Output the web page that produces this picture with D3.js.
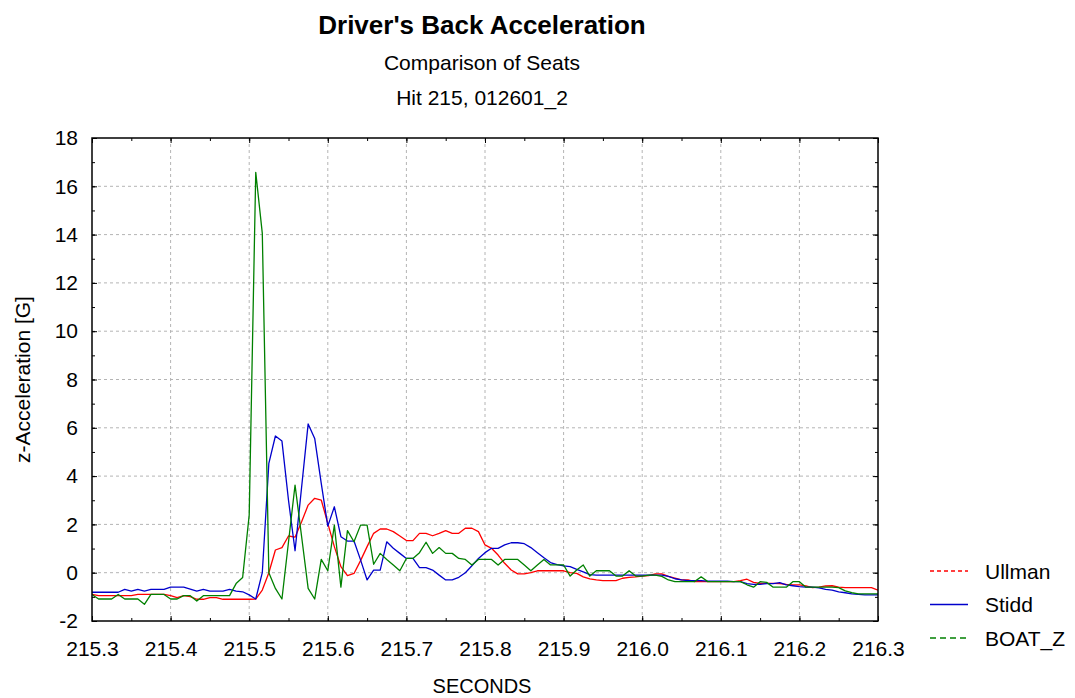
<!DOCTYPE html>
<html>
<head>
<meta charset="utf-8">
<script src="https://cdn.jsdelivr.net/npm/d3@7"></script>
<style>
  body { margin: 0; background: #fff; }
  text { font-family: "Liberation Sans", Arial, sans-serif; fill: #000; }
  .grid line { stroke: #b4b4b4; stroke-dasharray: 3,3; stroke-width: 1; }
</style>
</head>
<body>
<svg width="1075" height="698"></svg>
<script>
// sample times: 120 Hz starting at 215.3 s
var startTime = 215.3, sampleRate = 120;

var ullman = [
  -0.9, -0.95, -0.95, -0.95, -0.95, -0.95, -0.95, -0.9, -0.9, -0.9,
  -0.9, -0.9, -0.95, -1.03, -0.95, -0.99, -1.1, -1.1, -1.03, -1.03,
  -1.1, -1.1, -1.1, -1.1, -1.1, -1.09, -0.72, 0, 0.94, 1.04,
  1.52, 1.47, 2.11, 2.8, 3.08, 3.01, 2.04, 1.08, 0.25, -0.12,
  -0.03, 0.5, 1.08, 1.63, 1.81, 1.81, 1.7, 1.52, 1.33, 1.33,
  1.63, 1.63, 1.53, 1.63, 1.74, 1.63, 1.63, 1.84, 1.84, 1.7,
  1.15, 1.01, 0.73, 0.39, 0.11, -0.05, -0.05, 0, 0.08, 0.08,
  0.08, 0.08, 0.08, 0, -0.03, -0.17, -0.26, -0.3, -0.33, -0.33,
  -0.33, -0.23, -0.19, -0.17, -0.14, -0.12, -0.05, -0.05, -0.15, -0.22,
  -0.3, -0.3, -0.37, -0.37, -0.37, -0.37, -0.37, -0.37, -0.37, -0.33,
  -0.27, -0.4, -0.44, -0.44, -0.44, -0.45, -0.48, -0.5, -0.5, -0.55,
  -0.62, -0.6, -0.55, -0.54, -0.6, -0.62, -0.62, -0.62, -0.62, -0.62,
  -0.72
];

var stidd = [
  -0.81, -0.81, -0.81, -0.81, -0.81, -0.69, -0.76, -0.69, -0.76, -0.69,
  -0.69, -0.69, -0.6, -0.6, -0.6, -0.68, -0.76, -0.69, -0.76, -0.76,
  -0.76, -0.69, -0.76, -0.79, -0.92, -1.09, 0, 4.53, 5.66, 5.45,
  3.0, 0.91, 3.54, 6.16, 5.56, 3.7, 1.93, 2.73, 1.49, 1.31,
  1.31, 0.53, -0.3, 0.11, 0.11, 1.28, 1.01, 0.8, 0.59, 0.59,
  0.21, 0.21, 0.11, -0.1, -0.3, -0.3, -0.19, 0, 0.29, 0.59,
  0.83, 1.01, 1.01, 1.15, 1.24, 1.24, 1.2, 1.04, 0.83, 0.62,
  0.42, 0.33, 0.28, 0.25, 0.14, 0.03, -0.08, -0.1, -0.1, -0.1,
  -0.1, -0.1, -0.1, -0.1, -0.1, -0.1, -0.1, -0.1, -0.15, -0.25,
  -0.3, -0.33, -0.33, -0.33, -0.35, -0.35, -0.35, -0.35, -0.37, -0.37,
  -0.45, -0.48, -0.48, -0.45, -0.45, -0.41, -0.5, -0.54, -0.58, -0.6,
  -0.6, -0.63, -0.69, -0.72, -0.79, -0.83, -0.88, -0.9, -0.92, -0.92,
  -0.92
];

var boatZ = [
  -0.9, -1.09, -1.09, -1.09, -0.9, -1.09, -1.09, -1.09, -1.31, -0.9,
  -0.9, -0.9, -1.09, -1.09, -0.95, -0.95, -1.17, -0.95, -0.95, -0.95,
  -0.95, -0.95, -0.45, -0.2, 2.39, 16.58, 14.05, 0, -0.65, -1.09,
  1.27, 3.63, 1.5, -0.65, -1.09, 0.55, 0.08, 1.97, -0.6, 1.74,
  1.28, 1.97, 1.97, 0.35, 0.8, 0.55, 0.32, 0.08, 0.59, 0.59,
  0.83, 1.26, 0.8, 1.04, 0.8, 0.8, 0.59, 0.55, 0.32, 0.55,
  0.55, 0.55, 0.32, 0.55, 0.55, 0.55, 0.32, 0.08, 0.32, 0.55,
  0.32, 0.32, 0.32, -0.14, 0.11, 0.32, -0.14, 0.08, 0.08, 0.08,
  -0.14, -0.14, 0.08, -0.14, -0.14, -0.1, -0.1, -0.15, -0.3, -0.37,
  -0.37, -0.37, -0.37, -0.17, -0.37, -0.37, -0.37, -0.37, -0.37, -0.37,
  -0.5, -0.6, -0.37, -0.4, -0.6, -0.6, -0.6, -0.37, -0.37, -0.6,
  -0.6, -0.6, -0.6, -0.6, -0.62, -0.75, -0.83, -0.88, -0.88, -0.88,
  -0.88
];

var seriesNames = ["Ullman", "Stidd", "BOAT_Z"];
var seriesColors = ["#ff0000", "#0000cc", "#008000"];
var legendDash = ["4,3", null, "6,4"];

var xTicks = [215.3, 215.4, 215.5, 215.6, 215.7, 215.8, 215.9, 216.0, 216.1, 216.2, 216.3];
var yTicks = [-2, 0, 2, 4, 6, 8, 10, 12, 14, 16, 18];

var svg = d3.select("svg"),
    margin = {top: 138, right: 197, bottom: 77, left: 92},
    width = +svg.attr("width") - margin.left - margin.right,
    height = +svg.attr("height") - margin.top - margin.bottom;

svg.append("rect").attr("width", 1075).attr("height", 698).attr("fill", "#fff");

var g = svg.append("g").attr("transform", "translate(" + margin.left + "," + margin.top + ")");

var x = d3.scaleLinear().domain([215.3, 216.3]).range([0, width]);
var y = d3.scaleLinear().domain([-2, 18]).range([height, 0]);

// grid
g.append("g").attr("class", "grid")
  .selectAll("line").data(xTicks.slice(1, -1)).enter().append("line")
  .attr("x1", function(d) { return x(d); }).attr("x2", function(d) { return x(d); })
  .attr("y1", 0).attr("y2", height);
g.append("g").attr("class", "grid")
  .selectAll("line").data(yTicks.slice(1, -1)).enter().append("line")
  .attr("y1", function(d) { return y(d); }).attr("y2", function(d) { return y(d); })
  .attr("x1", 0).attr("x2", width);

// series
var allSeries = [ullman, stidd, boatZ];
var line = d3.line()
  .x(function(d, i) { return x(startTime + i / sampleRate); })
  .y(function(d) { return y(d); });

g.append("defs").append("clipPath").attr("id", "clip")
  .append("rect").attr("width", width).attr("height", height);

allSeries.forEach(function(s, k) {
  g.append("path")
    .datum(s)
    .attr("clip-path", "url(#clip)")
    .attr("fill", "none")
    .attr("stroke", seriesColors[k])
    .attr("stroke-width", 1.3)
    .attr("stroke-linejoin", "round")
    .attr("d", line);
});

// axes: ticks pointing inward, on all four sides
function styleAxis(sel) {
  sel.select(".domain").remove();
  sel.selectAll(".tick line").attr("stroke", "#000");
  sel.selectAll(".tick text").style("font-size", "21px").style("font-family", "Liberation Sans, Arial, sans-serif");
}

var minorX = d3.range(0, 21).map(function(i) { return 215.3 + i * 0.05; });
var minorY = d3.range(-2, 19, 1);

g.append("g").attr("transform", "translate(0," + height + ")")
  .call(d3.axisBottom(x).tickValues(xTicks).tickFormat(function(d) { return d.toFixed(1); }).tickSize(-5).tickPadding(20))
  .call(styleAxis);
g.append("g").attr("transform", "translate(0," + height + ")")
  .call(d3.axisBottom(x).tickValues(minorX).tickFormat("").tickSize(-3))
  .call(styleAxis);
g.append("g")
  .call(d3.axisTop(x).tickValues(minorX).tickFormat("").tickSize(-3))
  .call(styleAxis);
g.append("g")
  .call(d3.axisTop(x).tickValues(xTicks).tickFormat("").tickSize(-5))
  .call(styleAxis);

g.append("g")
  .call(d3.axisLeft(y).tickValues(yTicks).tickFormat(function(d) { return String(d); }).tickSize(-5).tickPadding(14))
  .call(styleAxis);
g.append("g")
  .call(d3.axisLeft(y).tickValues(minorY).tickFormat("").tickSize(-3))
  .call(styleAxis);
g.append("g").attr("transform", "translate(" + width + ",0)")
  .call(d3.axisRight(y).tickValues(yTicks).tickFormat("").tickSize(-5))
  .call(styleAxis);
g.append("g").attr("transform", "translate(" + width + ",0)")
  .call(d3.axisRight(y).tickValues(minorY).tickFormat("").tickSize(-3))
  .call(styleAxis);

g.append("rect")
  .attr("width", width).attr("height", height)
  .attr("fill", "none").attr("stroke", "#000").attr("stroke-width", 1.5);

// titles
svg.append("text").attr("x", 482).attr("y", 34).attr("text-anchor", "middle")
  .style("font-size", "26px").style("font-weight", "bold").text("Driver's Back Acceleration");
svg.append("text").attr("x", 482).attr("y", 70).attr("text-anchor", "middle")
  .style("font-size", "21px").text("Comparison of Seats");
svg.append("text").attr("x", 482).attr("y", 105).attr("text-anchor", "middle")
  .style("font-size", "21px").text("Hit 215, 012601_2");

svg.append("text").attr("x", 482).attr("y", 693).attr("text-anchor", "middle")
  .style("font-size", "20px").text("SECONDS");
svg.append("text")
  .attr("transform", "translate(30," + (margin.top + height / 2) + ") rotate(-90)")
  .attr("text-anchor", "middle")
  .style("font-size", "21px").text("z-Acceleration [G]");

// legend
var legend = svg.append("g").attr("transform", "translate(930,571)");
seriesNames.forEach(function(name, k) {
  var row = legend.append("g").attr("transform", "translate(0," + k * 33.5 + ")");
  row.append("line").attr("x1", 0).attr("x2", 38).attr("y1", 0).attr("y2", 0)
    .attr("stroke", seriesColors[k]).attr("stroke-width", 1.3)
    .attr("stroke-dasharray", legendDash[k]);
  row.append("text").attr("x", 55).attr("y", 7.5).style("font-size", "21px").text(name);
});
</script>
</body>
</html>
